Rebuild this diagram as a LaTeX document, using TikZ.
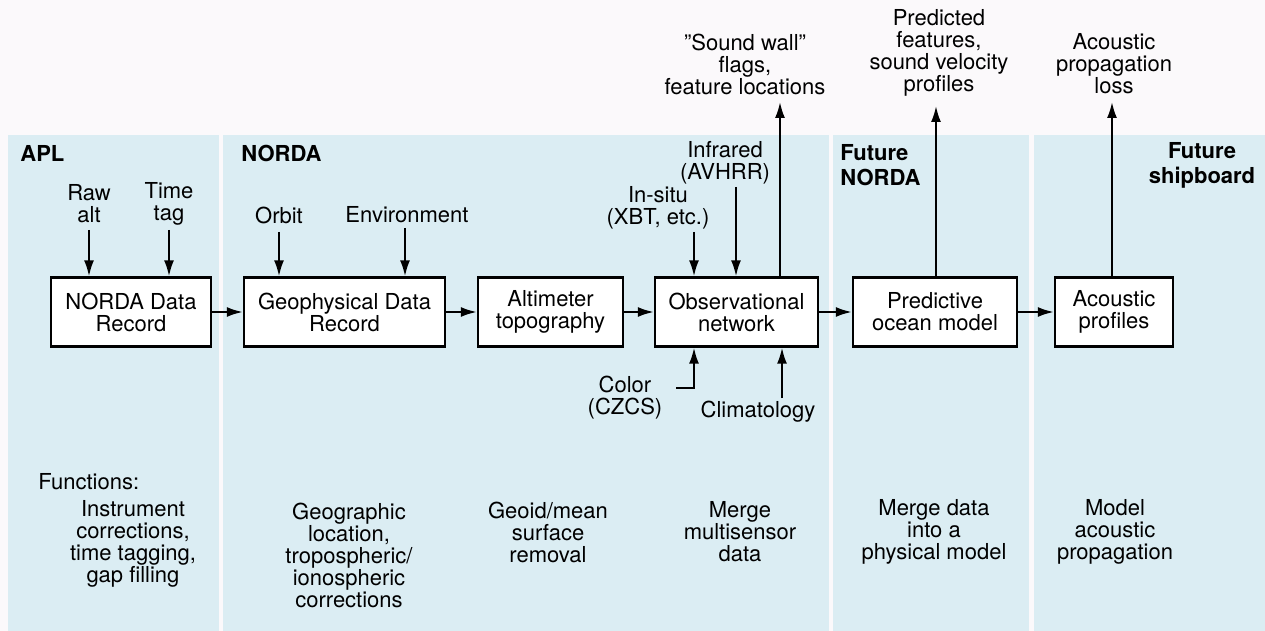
\documentclass[tikz,border=0pt]{standalone}
\usepackage{fontspec}
\setmainfont{TeX Gyre Heros}
\usetikzlibrary{arrows.meta}
\definecolor{panel}{RGB}{219,237,243}
\definecolor{paper}{RGB}{251,249,251}
\begin{document}
\begin{tikzpicture}[x=0.5pt,y=-0.5pt,
  font=\fontsize{11}{11}\selectfont,
  box/.style={draw=black,line width=1.2pt,fill=white,align=center,inner sep=0pt,minimum height=34.5pt},
  lbl/.style={align=center,inner sep=0pt},
  hdr/.style={font=\fontsize{11}{12.5}\selectfont\bfseries,inner sep=0pt},
  arr/.style={line width=1pt,-{Latex[length=8pt,width=5pt]}},
  fn/.style={align=center,inner sep=0pt}]
\useasboundingbox (0,0) rectangle (1265,631);
\fill[paper] (0,0) rectangle (1265,631);
% panels
\fill[panel] (8,135) rectangle (219,631);
\fill[panel] (223,135) rectangle (829,631);
\fill[panel] (833,135) rectangle (1029,631);
\fill[panel] (1034,135) rectangle (1265,631);
% headers
\node[hdr,anchor=west] (apl) at (20,153) {APL};
\node[hdr,anchor=west] (norda) at (241,153) {NORDA};
\node[hdr,anchor=west,align=left] (fnorda) at (840,165) {Future\\NORDA};
\node[hdr,align=center] (fship) at (1202,165) {Future\\shipboard};
% boxes
\node[box,minimum width=80pt] (b1) at (131,312) {NORDA Data\\Record};
\node[box,minimum width=100.5pt] (b2) at (344.5,312) {Geophysical Data\\Record};
\node[box,minimum width=72.5pt] (b3) at (550.5,312) {Altimeter\\topography};
\node[box,minimum width=81.5pt] (b4) at (736.5,312) {Observational\\network};
\node[box,minimum width=82pt] (b5) at (935,312) {Predictive\\ocean model};
\node[box,minimum width=59pt] (b6) at (1114,312) {Acoustic\\profiles};
\draw[arr] (b1.east) -- (b2.west);
\draw[arr] (b2.east) -- (b3.west);
\draw[arr] (b3.east) -- (b4.west);
\draw[arr] (b4.east) -- (b5.west);
\draw[arr] (b5.east) -- (b6.west);
% input labels
\node[lbl] (raw) at (89,204) {Raw\\alt};
\node[lbl] (ttag) at (169,204) {Time\\tag};
\node[lbl] (orbit) at (279,215) {Orbit};
\node[lbl] (env) at (407,215) {Environment};
\node[lbl] (insitu) at (658,208) {In-situ\\(XBT, etc.)};
\node[lbl] (ir) at (725,163) {Infrared\\(AVHRR)};
\node[lbl] (color) at (625,398) {Color\\(CZCS)};
\node[lbl] (clim) at (758,412) {Climatology};
\coordinate (raws) at (89,230);
\coordinate (ttags) at (169,230);
\coordinate (orbs) at (279,232);
\coordinate (envs) at (405,228);
\coordinate (inss) at (694,232);
\coordinate (irs) at (736,187);
\coordinate (cols) at (676,388);
\coordinate (colk) at (694,388);
\coordinate (clims) at (782,398);
\draw[arr] (raws) -- (raws |- b1.north);
\draw[arr] (ttags) -- (ttags |- b1.north);
\draw[arr] (orbs) -- (orbs |- b2.north);
\draw[arr] (envs) -- (envs |- b2.north);
\draw[arr] (inss) -- (inss |- b4.north);
\draw[arr] (irs) -- (irs |- b4.north);
\draw[arr] (cols) -- (colk) -- (colk |- b4.south);
\draw[arr] (clims) -- (clims |- b4.south);
% outputs
\node[lbl] (sw) at (745,64) {''Sound wall''\\flags,\\feature locations};
\node[lbl] (pred) at (939,53) {Predicted\\features,\\sound velocity\\profiles};
\node[lbl] (aloss) at (1114,64) {Acoustic\\propagation\\loss};
\coordinate (swt) at (780,102);
\coordinate (predt) at (936,106);
\coordinate (alt) at (1112,102);
\draw[arr] (b4.north -| swt) -- (swt);
\draw[arr] (b5.north -| predt) -- (predt);
\draw[arr] (b6.north -| alt) -- (alt);
% functions
\node[lbl,anchor=west] (fhead) at (38,482) {Functions:};
\node[fn] (f1) at (133,544) {Instrument\\corrections,\\time tagging,\\gap filling};
\node[fn] (f2) at (349,555) {Geographic\\location,\\tropospheric/\\ionospheric\\corrections};
\node[fn] (f3) at (548,532) {Geoid/mean\\surface\\removal};
\node[fn] (f4) at (740,532) {Merge\\multisensor\\data};
\node[fn] (f5) at (934,532) {Merge data\\into a\\physical model};
\node[fn] (f6) at (1115,532) {Model\\acoustic\\propagation};
\end{tikzpicture}
\end{document}
